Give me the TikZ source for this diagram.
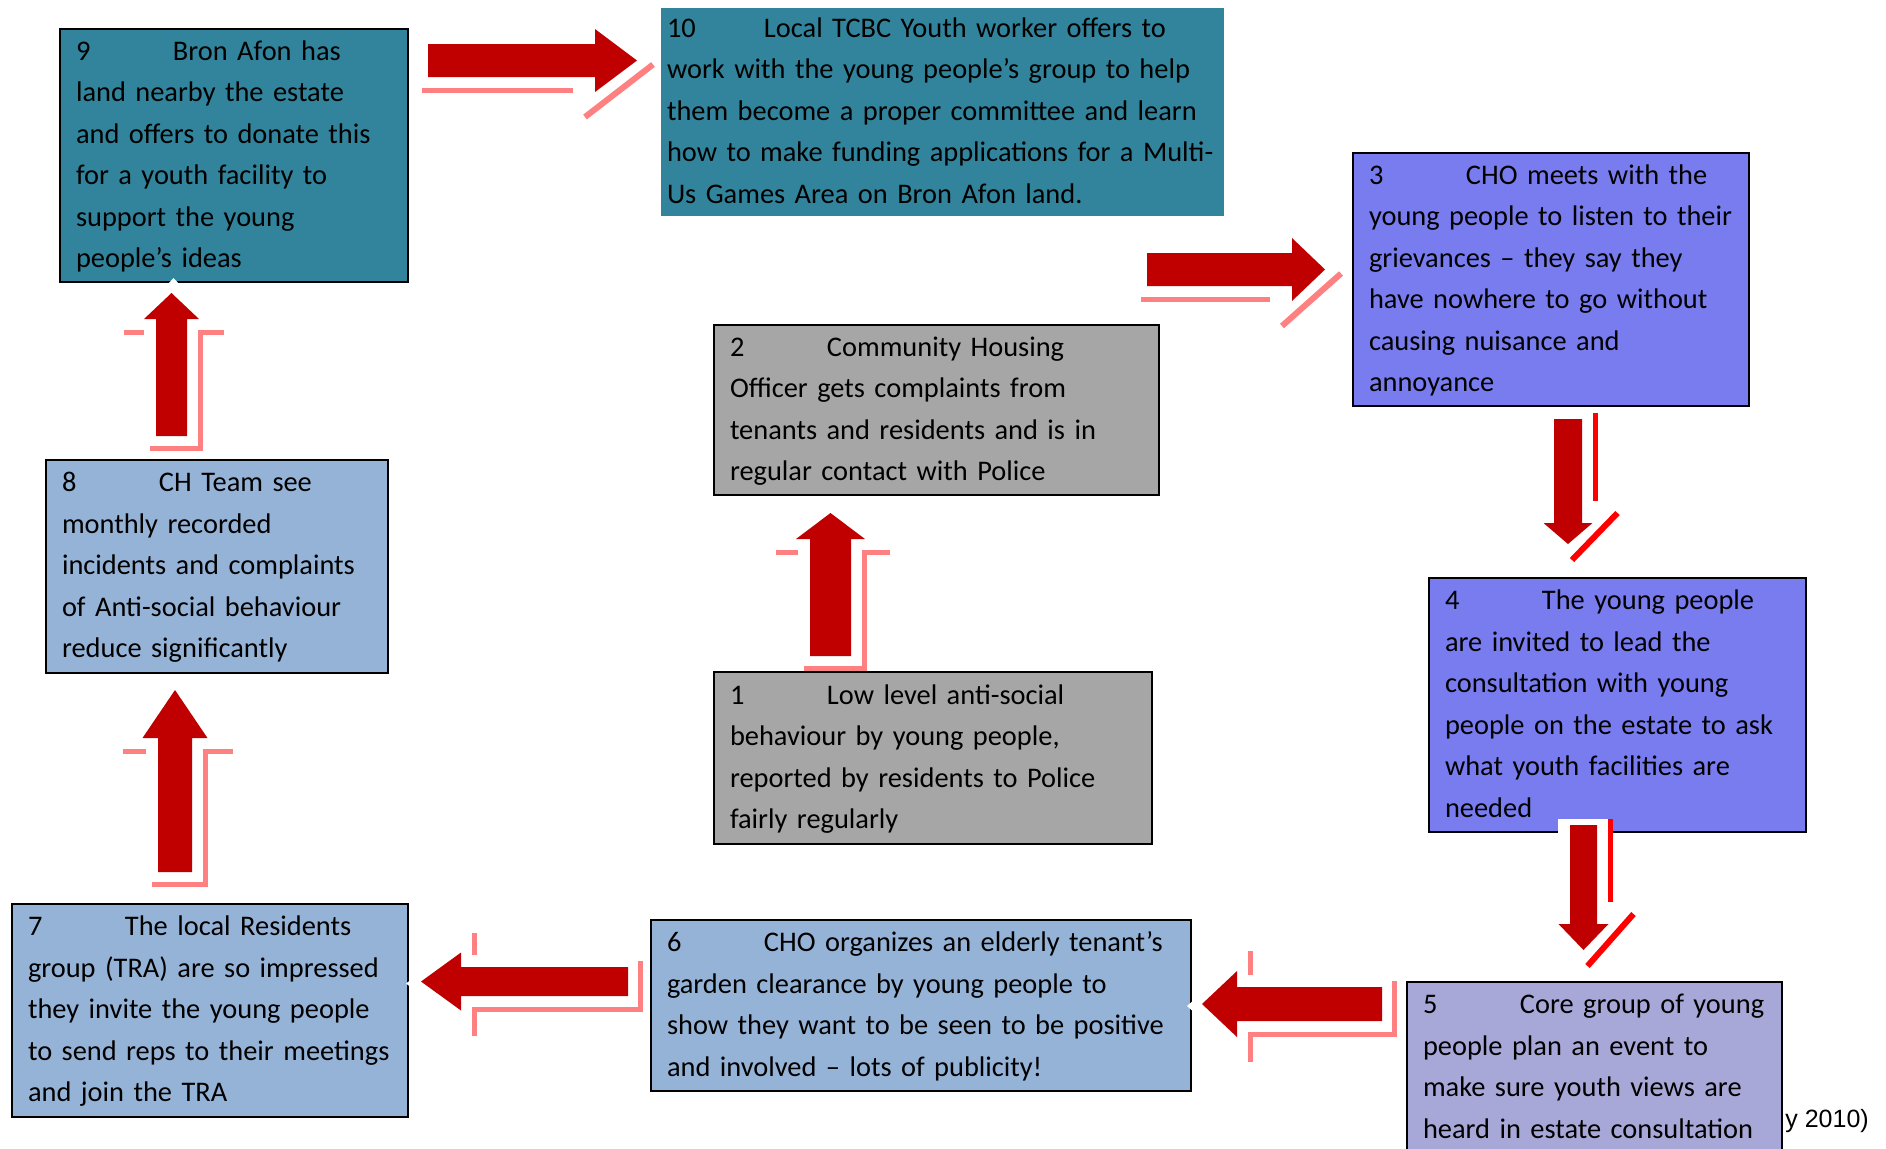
\documentclass[tikz,border=0pt]{standalone}
\usepackage{fontspec}
\setmainfont{Carlito}
\newfontfamily\arialfont{Liberation Sans}
\definecolor{tealbox}{RGB}{49,132,155}
\definecolor{bluebox}{RGB}{120,124,238}
\definecolor{greybox}{RGB}{166,166,166}
\definecolor{skybox}{RGB}{149,179,215}
\definecolor{lilacbox}{RGB}{168,168,216}
\definecolor{arrowred}{RGB}{192,0,0}
\definecolor{glowpink}{RGB}{255,128,128}
\definecolor{glowred}{RGB}{255,0,0}
\tikzset{
  stage/.style={draw=black, line width=1pt, anchor=north west, align=left,
    inner xsep=8pt, inner ysep=0pt, font=\fontsize{14.2pt}{20.75pt}\selectfont},
  glow/.style={draw=glowpink, line width=2.5pt},
  glowdark/.style={draw=glowred, line width=2.5pt},
}
\newcommand{\stepno}[1]{\makebox[48.5pt][l]{#1}}
\newcommand{\stagetext}[1]{\begin{tabular}{@{}l@{}}#1\end{tabular}}
% body of a block arrow: length, shaft half width, head half width, head length, tail offset
\newcommand{\arrowwhite}[5]{%
  \fill[white] (-#5,{-#2-12}) -- ({#1-#4-13},{-#2-12}) -- ({#1-#4-13},{-#3-20}) -- ({#1+15},2)
    -- ({#1-#4-13},{#3+25}) -- ({#1-#4-13},{#2+13}) -- (-#5,{#2+13}) -- cycle;}
\newcommand{\arrowbody}[4]{%
  \fill[arrowred] (0,{-#2}) -- ({#1-#4},{-#2}) -- ({#1-#4},{-#3}) -- (#1,0)
    -- ({#1-#4},#3) -- ({#1-#4},#2) -- (0,#2) -- cycle;}
% arrows pointing right or down
\newcommand{\fwdarrow}[8][glow]{%
  \begin{scope}[shift={#2},rotate=#3,yscale=#4]
    \arrowwhite{#5}{#6}{#7}{#8}{6}
    \draw[#1] (-6,{#6+13}) -- ({#5-#8-22},{#6+13});
    \draw[#1,line width=3pt] ({#5-#8-10},{#7+25}) -- ({#5+16},4);
    \arrowbody{#5}{#6}{#7}{#8}
  \end{scope}}
% arrows pointing left or up
\newcommand{\backarrow}[8][glow]{%
  \begin{scope}[shift={#2},rotate=#3,yscale=#4]
    \arrowwhite{#5}{#6}{#7}{#8}{12}
    \draw[#1] (-12,{-#6-6}) -- (-12,{#6+13}) -- ({#5-#8-13},{#6+13}) -- ({#5-#8-13},{#7+25});
    \draw[#1] ({#5-#8-13},{-#7-20}) -- ({#5-#8-13},{-#6-12});
    \arrowbody{#5}{#6}{#7}{#8}
  \end{scope}}

\begin{document}
\begin{tikzpicture}[x=0.5pt,y=-0.5pt]
  \useasboundingbox (0,0) rectangle (1886,1148);
  \fill[white] (0,0) rectangle (1886,1148);

  % stages
  \node[stage, fill=tealbox, text width=158pt, minimum height=126.5pt] (s9) at (59,28)
    {\stagetext{\stepno{9}Bron Afon has\\land nearby the estate\\and offers to donate this\\for a youth facility to\\support the young\\people’s ideas}};
  \node[stage, draw=none, fill=tealbox, inner xsep=3pt, text width=275.5pt, minimum height=103pt] (s10) at (660,7)
    {\stagetext{\stepno{10}Local TCBC Youth worker offers to\\work with the young people’s group to help\\them become a proper committee and learn\\how to make funding applications for a Multi-\\Us Games Area on Bron Afon land.}};
  \node[stage, fill=bluebox, text width=182pt, minimum height=126.5pt] (s3) at (1352,152)
    {\stagetext{\stepno{3}CHO meets with the\\young people to listen to their\\grievances – they say they\\have nowhere to go without\\causing nuisance and\\annoyance}};
  \node[stage, fill=greybox, text width=206.5pt, minimum height=85pt] (s2) at (713,324)
    {\stagetext{\stepno{2}Community Housing\\Officer gets complaints from\\tenants and residents and is in\\regular contact with Police}};
  \node[stage, fill=skybox, text width=155pt, minimum height=106.5pt] (s8) at (45,459)
    {\stagetext{\stepno{8}CH Team see\\monthly recorded\\incidents and complaints\\of Anti-social behaviour\\reduce significantly}};
  \node[stage, fill=greybox, text width=203pt, minimum height=86pt] (s1) at (713,671)
    {\stagetext{\stepno{1}Low level anti-social\\behaviour by young people,\\reported by residents to Police\\fairly regularly}};
  \node[stage, fill=bluebox, text width=172.5pt, minimum height=127pt] (s4) at (1428,577)
    {\stagetext{\stepno{4}The young people\\are invited to lead the\\consultation with young\\people on the estate to ask\\what youth facilities are\\needed}};
  \node[stage, fill=skybox, text width=182pt, minimum height=106.5pt] (s7) at (11,903)
    {\stagetext{\stepno{7}The local Residents\\group (TRA) are so impressed\\they invite the young people\\to send reps to their meetings\\and join the TRA}};
  \node[stage, fill=skybox, text width=254pt, minimum height=85.5pt] (s6) at (650,919)
    {\stagetext{\stepno{6}CHO organizes an elderly tenant’s\\garden clearance by young people to\\show they want to be seen to be positive\\and involved – lots of publicity!}};
  \node[stage, fill=lilacbox, text width=171.5pt, minimum height=85.5pt] (s5) at (1406,981)
    {\stagetext{\stepno{5}Core group of young\\people plan an event to\\make sure youth views are\\heard in estate consultation}};
  \node[anchor=base west, inner sep=0pt, font=\arialfont\fontsize{12.5pt}{15pt}\selectfont] (src) at (1785,1127) {y 2010)};

  % arrow tails
  \coordinate (a9) at (428,60.5);
  \coordinate (a2) at (1147,269.5);
  \coordinate (a3) at (1568,419);
  \coordinate (a4) at (1583.5,825);
  \coordinate (a5) at (1382,1004);
  \coordinate (a6) at (628,981.5);
  \coordinate (a7) at (175,872);
  \coordinate (a8) at (171.5,436);
  \coordinate (a1) at (830.5,656);

  \fwdarrow{(a9)}{0}{1}{209}{16.5}{31.5}{42}
  \fwdarrow{(a2)}{0}{1}{178}{16.5}{31.5}{33}
  \fwdarrow[glowdark]{(a3)}{-90}{-1}{125}{14}{24.5}{21}
  \fwdarrow[glowdark]{(a4)}{-90}{-1}{125}{13.5}{25}{26}
  \backarrow{(a5)}{180}{-1}{180}{17}{33}{35}
  \backarrow{(a6)}{180}{-1}{207}{14.5}{29}{40}
  \backarrow{(a7)}{90}{1}{182}{17}{32.5}{48}
  \backarrow{(a8)}{90}{1}{143}{15.5}{27.5}{26}
  \backarrow{(a1)}{90}{1}{143}{20.5}{34.5}{26}
\end{tikzpicture}
\end{document}
